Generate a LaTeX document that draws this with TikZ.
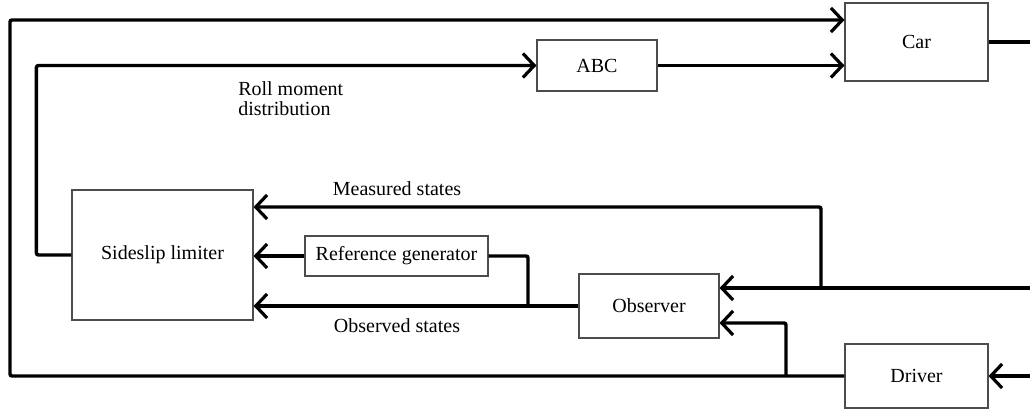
\documentclass[tikz,border=0pt]{standalone}
\usepackage{fontspec}
\setmainfont{Liberation Serif}
\usetikzlibrary{arrows.meta}

\begin{document}
\begin{tikzpicture}[x = 0.75pt, y = -0.75pt,
  block/.style = {draw = black!70, line width = 0.8pt, fill = white, inner sep = 0pt,
    font = \fontsize{15}{15}\selectfont},
  wire/.style = {line width = 2.6pt, rounded corners = 1.5pt},
  sig/.style = {wire, -{Straight Barb[length = 8.5pt, width = 18pt, line width = 2.4pt]}},
  lbl/.style = {font = \fontsize{15}{15}\selectfont, inner sep = 0pt}]
\useasboundingbox (0,0) rectangle (1030,411);

\node[block, minimum width = 107.25pt, minimum height = 58.5pt] (car) at (916.5,42) {Car};
\node[block, minimum width = 90pt, minimum height = 38.25pt] (abc) at (597,65.5) {ABC};
\node[block, minimum width = 135.75pt, minimum height = 97.5pt] (sl) at (162.5,255) {Sideslip limiter};
\node[block, minimum width = 137.25pt, minimum height = 30pt] (rg) at (396.5,256) {Reference generator};
\node[block, minimum width = 105pt, minimum height = 48pt] (obs) at (649,306) {Observer};
\node[block, minimum width = 107.25pt, minimum height = 48pt] (drv) at (916.5,376) {Driver};

\coordinate (carout) at (1030,42);
\coordinate (meas) at (1030,288);
\coordinate (mbranch) at (821,288);
\coordinate (rbranch) at (528,306);
\coordinate (drvin) at (1030,376);
\coordinate (lowleft) at (10,376);
\coordinate (dbranch) at (786,376);

\draw[sig] (drv.west) -- (lowleft) |- (car.west |- 0,20);
\draw[sig] (abc.east) -- (abc.east -| car.west);
\draw[sig] (sl.west) -- ++(-35,0) |- (abc.west);
\draw[wire] (car.east) -- (carout);
\draw[sig] (meas) -- (meas -| obs.east);
\draw[sig] (mbranch) |- (sl.east |- 0,207);
\draw[sig] (rg.west) -- (rg.west -| sl.east);
\draw[wire] (rg.east) -| (rbranch);
\draw[sig] (obs.west) -- (obs.west -| sl.east);
\draw[sig] (drvin) -- (drv.east);
\draw[sig] (dbranch) |- (obs.east |- 0,323);

\node[lbl, anchor = north west, align = left] (rmd) at (238,81) {Roll moment\\distribution};
\node[lbl] (ms) at (397,189) {Measured states};
\node[lbl] (os) at (397,326) {Observed states};
\end{tikzpicture}
\end{document}
